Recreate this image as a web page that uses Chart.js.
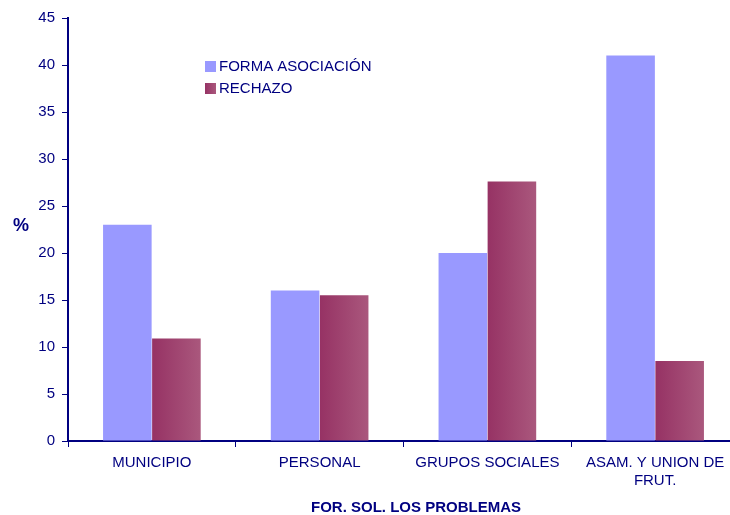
<!DOCTYPE html>
<html>
<head>
<meta charset="utf-8">
<script src="https://cdn.jsdelivr.net/npm/chart.js@4.4.1/dist/chart.umd.min.js"></script>
<style>
  html, body { margin: 0; padding: 0; background: #fff; overflow: hidden; }
  #wrap { width: 745px; height: 515px; }
</style>
</head>
<body>
<div id="wrap"><canvas id="c" width="745" height="515"></canvas></div>
<script>
const categories = ["MUNICIPIO", "PERSONAL", "GRUPOS SOCIALES", ["ASAM. Y UNION DE", "FRUT."]];
const formaAsociacion = [23, 16, 20, 41];
const rechazo = [10.9, 15.5, 27.6, 8.5];
const seriesNames = ["FORMA ASOCIACIÓN", "RECHAZO"];
const yTicks = [0, 5, 10, 15, 20, 25, 30, 35, 40, 45];
const axisTitle = "FOR. SOL. LOS PROBLEMAS";
const unitLabel = "%";

const NAVY = "#000080";
const FONT = "'Liberation Sans', Arial, sans-serif";
const CAT_PCT = 0.585;

// horizontal shading across each RECHAZO bar, from the category's own scale position
function redGradient(ctx) {
  const chart = ctx.chart;
  const xs = chart.scales && chart.scales.x;
  if (!xs || ctx.dataIndex === undefined) return "#9c3a68";
  const center = xs.getPixelForValue(ctx.dataIndex);
  const catW = xs.width / categories.length;
  const w = catW * CAT_PCT / 2;
  if (!Number.isFinite(center) || !Number.isFinite(w) || w <= 0) return "#9c3a68";
  const g = chart.ctx.createLinearGradient(center, 0, center + w, 0);
  g.addColorStop(0, "#963264");
  g.addColorStop(1, "#aa587d");
  return g;
}

const overlay = {
  id: "overlay",
  afterDraw(chart) {
    const c = chart.ctx;
    c.save();
    // legend
    const lx = 205, ly = [66, 88];
    chart.data.datasets.forEach((ds, i) => {
      if (i === 0) {
        c.fillStyle = "#9999ff";
      } else {
        const g = c.createLinearGradient(lx, 0, lx + 11, 0);
        g.addColorStop(0, "#963264");
        g.addColorStop(1, "#aa587d");
        c.fillStyle = g;
      }
      c.fillRect(lx, ly[i] - 5, 11, 11);
      c.fillStyle = NAVY;
      c.font = "15px " + FONT;
      c.textBaseline = "middle";
      c.textAlign = "left";
      c.fillText(ds.label, lx + 14, ly[i] + 0.5);
    });
    // unit label
    c.font = "bold 18px " + FONT;
    c.textAlign = "center";
    c.textBaseline = "middle";
    c.fillText(unitLabel, 21, 226);
    // x-axis title
    c.font = "bold 15px " + FONT;
    c.fillText(axisTitle, 416, 508);
    c.restore();
  }
};

new Chart(document.getElementById("c"), {
  type: "bar",
  data: {
    labels: categories,
    datasets: [
      { label: seriesNames[0], data: formaAsociacion, backgroundColor: "#9999ff",
        borderWidth: 0, categoryPercentage: CAT_PCT, barPercentage: 0.99 },
      { label: seriesNames[1], data: rechazo, backgroundColor: redGradient,
        borderWidth: 0, categoryPercentage: CAT_PCT, barPercentage: 0.99 }
    ]
  },
  options: {
    responsive: false,
    animation: false,
    devicePixelRatio: 1,
    layout: { padding: { top: 18, right: 6, left: 0, bottom: 0 } },
    plugins: { legend: { display: false }, tooltip: { enabled: false } },
    scales: {
      x: {
        offset: true,
        grid: { offset: true, drawOnChartArea: false, tickLength: 6, color: NAVY, lineWidth: 1 },
        border: { color: NAVY, width: 2 },
        ticks: { color: NAVY, font: { family: FONT, size: 15 }, padding: 7, maxRotation: 0, autoSkip: false },
        afterFit(s) { s.height = 74; }
      },
      y: {
        min: 0, max: 45,
        afterBuildTicks(s) { s.ticks = yTicks.map(v => ({ value: v })); },
        grid: { drawOnChartArea: false, tickLength: 6, color: NAVY, lineWidth: 1 },
        border: { color: NAVY, width: 2 },
        ticks: { color: NAVY, font: { family: FONT, size: 15 }, padding: 7 },
        afterFit(s) { s.width = 68; }
      }
    }
  },
  plugins: [overlay]
});
</script>
</body>
</html>
